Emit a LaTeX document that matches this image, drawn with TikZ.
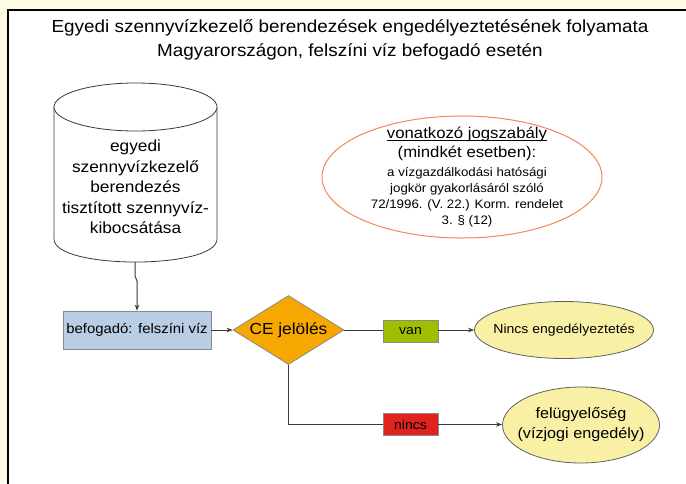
\documentclass[tikz,border=0pt]{standalone}
\usepackage{fontspec}
\setmainfont[FakeStretch=1.08]{Liberation Sans}
\usetikzlibrary{shapes.geometric,arrows.meta}
\newsavebox{\myulbox}
\newcommand{\myul}[1]{\sbox{\myulbox}{#1}\rlap{\rule[-2.4pt]{\wd\myulbox}{0.8pt}}\usebox{\myulbox}}
\definecolor{cream}{HTML}{FFFAE3}
\definecolor{boxblue}{HTML}{B9CDE5}
\definecolor{dorange}{HTML}{F7A800}
\definecolor{vgreen}{HTML}{9EBF00}
\definecolor{nred}{HTML}{E0231F}
\definecolor{lyellow}{HTML}{F8F0A4}
\definecolor{coral}{HTML}{F0875A}
\definecolor{edgegray}{HTML}{8A8A8A}
\definecolor{linegray}{HTML}{3A3A3A}
\tikzset{
  conn/.style={draw=linegray, line width=1pt},
  arr/.style={conn, -{Stealth[length=6pt,width=4.5pt]}},
  bluebox/.style={rectangle, draw=edgegray, fill=boxblue, line width=0.8pt, minimum width=148pt, minimum height=38pt, inner sep=0pt, font=\fontsize{13.8}{16}\selectfont},
  decision/.style={diamond, draw=edgegray, fill=dorange, line width=0.8pt, minimum width=111pt, minimum height=69pt, inner sep=0pt},
  tag/.style={rectangle, draw=edgegray, line width=0.8pt, minimum width=55pt, minimum height=22pt, inner sep=0pt, font=\fontsize{13}{15}\selectfont},
  outcome/.style={ellipse, draw=linegray!80, fill=lyellow, line width=0.8pt, inner sep=0pt},
}
\begin{document}
\begin{tikzpicture}[x=1pt,y=-1pt]
\useasboundingbox (0,0) rectangle (686,483);
\fill[cream] (0,0) rectangle (686,483);
\draw[line width=2pt, fill=white] (8,10) rectangle (700,500);
% title
\node[align=center, font=\fontsize{17.5}{24}\selectfont] (title) at (350,40)
  {Egyedi szennyvízkezelő berendezések engedélyeztetésének folyamata\\Magyarországon, felszíni víz befogadó esetén};
% cylinder
\draw[draw=linegray, line width=0.8pt, fill=white]
  (54,107) -- (54,239) .. controls (54,269.7) and (217,269.7) .. (217,239) -- (217,107);
\draw[draw=linegray, line width=0.8pt, fill=white] (135.5,107) ellipse [x radius=81.5, y radius=24];
\coordinate (cylb) at (135,262);
\node[align=center, font=\fontsize{16}{20.5}\selectfont] (cyltext) at (135.5,187)
  {egyedi\\szennyvízkezelő\\berendezés\\tisztított szennyvíz-\\kibocsátása};
% law ellipse
\node[ellipse, draw=coral, line width=1pt, minimum width=280pt, minimum height=122pt, inner sep=0pt] (law) at (462,177) {};
\node[align=center, inner sep=0pt, font=\fontsize{12.3}{16}\selectfont] (lawtext) at (467,177)
  {{\fontsize{15.5}{18}\selectfont \myul{vonatkozó jogszabály}}\\[3pt]
   {\fontsize{15.5}{18}\selectfont (mindkét esetben):}\\[3pt]
   a vízgazdálkodási hatósági\\
   jogkör gyakorlásáról szóló\\
   72/1996. (V. 22.) Korm. rendelet\\
   3. § (12)};
% flow
\node[bluebox] (recv) at (137,330) {befogadó: felszíni víz};
\node[decision, label={[font=\fontsize{16}{18}\selectfont]center:CE jelölés}] (ce) at (288.5,330) {};
\node[tag, fill=vgreen] (van) at (410.5,331) {van};
\node[tag, fill=nred] (nincs) at (410.5,424.5) {nincs};
\node[outcome, minimum width=179pt, minimum height=57pt,
      label={[font=\fontsize{13}{15}\selectfont]center:Nincs engedélyeztetés}] (noperm) at (564,330) {};
\node[outcome, minimum width=157pt, minimum height=76pt,
      label={[align=center, font=\fontsize{15}{20}\selectfont]center:felügyelőség\\(vízjogi engedély)}] (superv) at (581,425) {};
% connectors
\draw[arr] (cylb) -- ++(0,14) -- ++(2,5) -- (recv.north);
\draw[arr] (recv.east) -- (ce.west);
\draw[conn] (ce.east) -- (van.west |- ce.east);
\draw[arr] (van.east |- noperm.west) -- (noperm.west);
\draw[conn] (ce.south) -- (ce.south |- nincs.west) -- (nincs.west);
\draw[arr] (nincs.east) -- (superv.west |- nincs.east);
\end{tikzpicture}
\end{document}
